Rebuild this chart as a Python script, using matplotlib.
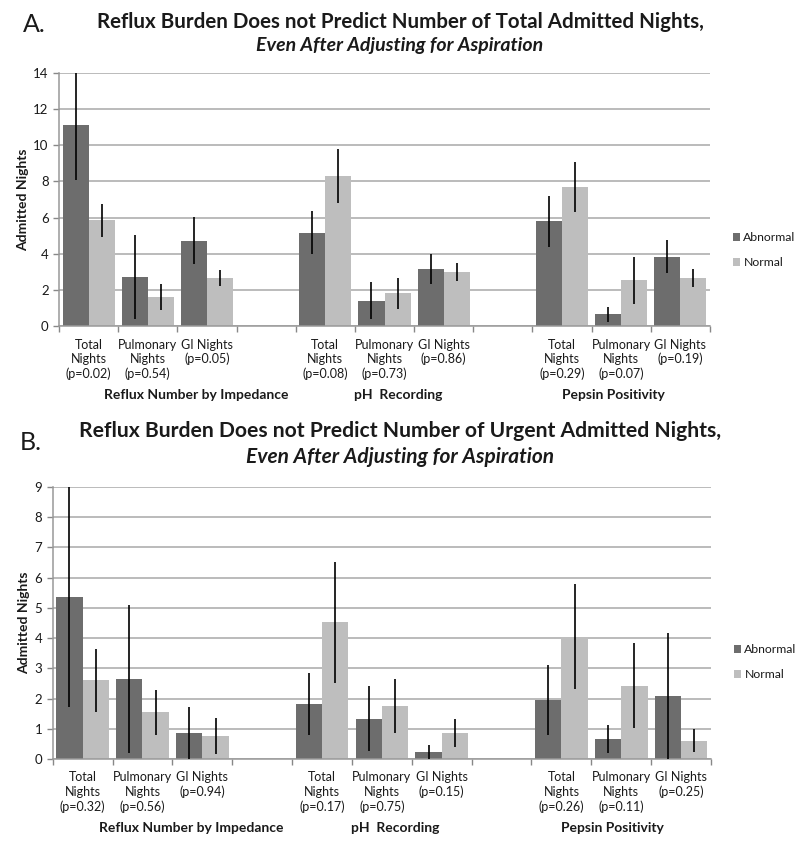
import matplotlib
matplotlib.use("Agg")
import matplotlib.pyplot as plt
import numpy as np

################
# DATA
################
# category labels (11 slots per panel, slots 3 and 7 are empty spacers)
labels_a = ["Total\nNights\n(p=0.02)", "Pulmonary\nNights\n(p=0.54)", "GI Nights\n(p=0.05)", "",
            "Total\nNights\n(p=0.08)", "Pulmonary\nNights\n(p=0.73)", "GI Nights\n(p=0.86)", "",
            "Total\nNights\n(p=0.29)", "Pulmonary\nNights\n(p=0.07)", "GI Nights\n(p=0.19)"]
labels_b = ["Total\nNights\n(p=0.32)", "Pulmonary\nNights\n(p=0.56)", "GI Nights\n(p=0.94)", "",
            "Total\nNights\n(p=0.17)", "Pulmonary\nNights\n(p=0.75)", "GI Nights\n(p=0.15)", "",
            "Total\nNights\n(p=0.26)", "Pulmonary\nNights\n(p=0.11)", "GI Nights\n(p=0.25)"]
groups = ["Reflux Number by Impedance", "pH  Recording", "Pepsin Positivity"]

# panel A: total admitted nights
abn_a = [11.15, 2.7, 4.72, np.nan, 5.17, 1.4, 3.15, np.nan, 5.8, 0.65, 3.84]
abn_a_err = [3.05, 2.33, 1.3, np.nan, 1.2, 1.03, 0.84, np.nan, 1.4, 0.42, 0.92]
nor_a = [5.84, 1.6, 2.66, np.nan, 8.29, 1.8, 3.0, np.nan, 7.7, 2.52, 2.66]
nor_a_err = [0.9, 0.72, 0.45, np.nan, 1.5, 0.85, 0.5, np.nan, 1.4, 1.3, 0.5]

# panel B: urgent admitted nights
abn_b = [5.36, 2.65, 0.86, np.nan, 1.82, 1.33, 0.24, np.nan, 1.95, 0.66, 2.07]
abn_b_err = [3.65, 2.45, 0.85, np.nan, 1.02, 1.07, 0.23, np.nan, 1.15, 0.45, 2.1]
nor_b = [2.6, 1.54, 0.77, np.nan, 4.53, 1.75, 0.86, np.nan, 4.05, 2.43, 0.6]
nor_b_err = [1.03, 0.74, 0.59, np.nan, 2.0, 0.89, 0.47, np.nan, 1.73, 1.4, 0.38]

DARK = "#6d6d6d"
LIGHT = "#bebebe"
GRID = "#a8a8a8"
TEXT = "#1a1a1a"
FONT = ["Lato", "DejaVu Sans"]

plt.rcParams["font.family"] = FONT


def draw_panel(ax, abn, abn_err, nor, nor_err, labels, ymax, ystep, leg_x, leg_y):
    '''
    Draws one grouped bar panel with error bars, grid and category labels.
    '''
    x = np.arange(len(labels))
    w = 0.44
    ax.bar(x - w / 2, abn, w, color=DARK, label="Abnormal", zorder=2)
    ax.bar(x + w / 2, nor, w, color=LIGHT, label="Normal", zorder=2)
    ax.errorbar(x - w / 2, abn, yerr=abn_err, fmt="none", ecolor="black", elinewidth=1.2, capsize=0, zorder=3)
    ax.errorbar(x + w / 2, nor, yerr=nor_err, fmt="none", ecolor="black", elinewidth=1.2, capsize=0, zorder=3)

    ax.set_xlim(-0.5, len(labels) - 0.5)
    ax.set_ylim(0, ymax)
    ax.set_yticks(np.arange(0, ymax + 0.1, ystep))
    ax.yaxis.grid(True, color=GRID, linewidth=1.1, zorder=0)
    ax.set_axisbelow(True)

    # labels on category centres, tick marks on slot boundaries
    ax.set_xticks(x)
    ax.set_xticklabels(labels, fontsize=9, color=TEXT, linespacing=1.22)
    ax.tick_params(axis="x", which="major", length=0, pad=9)
    ax.set_xticks(np.arange(-0.5, len(labels), 1.0), minor=True)
    ax.tick_params(axis="x", which="minor", length=4, color="#888888", width=1)
    ax.tick_params(axis="y", length=4, color="#888888", width=1, labelsize=9.5, labelcolor=TEXT)

    for s in ["top", "right"]:
        ax.spines[s].set_visible(False)
    for s in ["left", "bottom"]:
        ax.spines[s].set_color("#999999")
        ax.spines[s].set_linewidth(1.1)

    ax.set_ylabel("Admitted Nights", fontsize=10, fontweight="bold", color=TEXT, labelpad=3)
    ax.legend(loc="center left", bbox_to_anchor=(leg_x, leg_y), frameon=False, fontsize=8.8,
              handlelength=0.6, handleheight=0.6, handletextpad=0.25, labelspacing=1.15,
              borderaxespad=0, borderpad=0, labelcolor=TEXT)


fig = plt.figure(figsize=(8, 8.42), dpi=100)

ax_a = fig.add_axes([0.07375, 0.6128, 0.81375, 0.3005])
draw_panel(ax_a, abn_a, abn_a_err, nor_a, nor_a_err, labels_a, 14, 2, (733 - 59) / 651, 0.30)

ax_b = fig.add_axes([0.0659, 0.0986, 0.8229, 0.3230])
draw_panel(ax_b, abn_b, abn_b_err, nor_b, nor_b_err, labels_b, 9, 1, (734 - 52.7) / 658.3, 0.355)

# group labels below the category labels
group_pos = [1.82, 5.23, 8.86]
for ax, ylab in [(ax_a, 395), (ax_b, 828)]:
    for gx, g in zip(group_pos, groups):
        xf = fig.transFigure.inverted().transform(ax.transData.transform((gx, 0)))[0]
        fig.text(xf, 1 - ylab / 842, g, ha="center", va="center", fontsize=10,
                 fontweight="bold", color=TEXT)

# panel letters and titles
fig.text(23 / 800, 1 - 25 / 842, "A.", fontsize=18, color=TEXT, va="center")
fig.text(0.5, 1 - 22 / 842, "Reflux Burden Does not Predict Number of Total Admitted Nights,",
         ha="center", va="center", fontsize=14.8, fontweight="bold", color=TEXT)
fig.text(0.5, 1 - 46 / 842, "Even After Adjusting for Aspiration", ha="center", va="center",
         fontsize=14, fontweight="bold", style="italic", color=TEXT)

fig.text(20 / 800, 1 - 443 / 842, "B.", fontsize=18, color=TEXT, va="center")
fig.text(0.5, 1 - 431 / 842, "Reflux Burden Does not Predict Number of Urgent Admitted Nights,",
         ha="center", va="center", fontsize=15.2, fontweight="bold", color=TEXT)
fig.text(0.5, 1 - 457 / 842, "Even After Adjusting for Aspiration", ha="center", va="center",
         fontsize=15, fontweight="bold", style="italic", color=TEXT)

fig.savefig("out.png", dpi=100, facecolor="white")
